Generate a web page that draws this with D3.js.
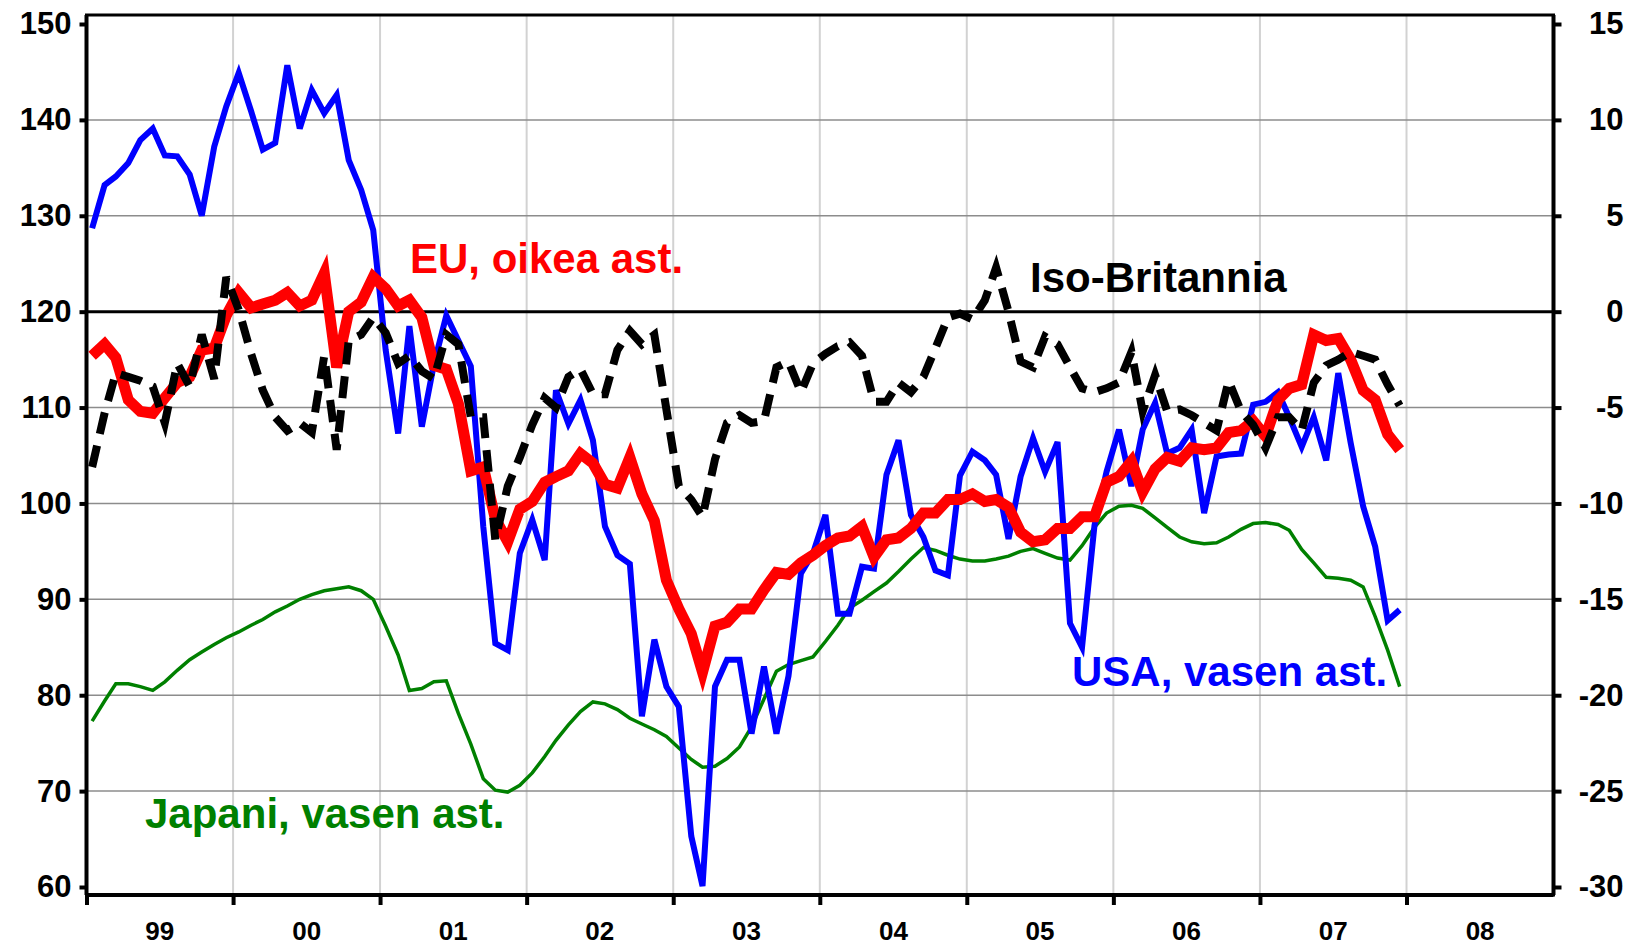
<!DOCTYPE html>
<html>
<head>
<meta charset="utf-8">
<script src="https://cdn.jsdelivr.net/npm/d3@7"></script>
<style>
  body { margin: 0; background: #fff; }
  svg text { font-family: "Liberation Sans", Arial, sans-serif; font-weight: bold; }
</style>
</head>
<body>
<div id="chart"></div>
<script>
// monthly values, Jan 1999 - Dec 2007 (one row per year)
var usa = [ // left axis
  128.7,133.2,134.1,135.5,137.9,139.1,136.3,136.2,134.3,130.0,137.2,141.4,
  144.9,140.9,136.9,137.6,145.7,139.1,143.1,140.7,142.6,135.8,132.7,128.5,
  116.0,107.3,118.5,108.0,114.5,119.6,117.0,114.3,97.6,85.4,84.7,94.8,
  98.3,94.1,111.8,108.3,110.8,106.6,97.6,94.6,93.7,77.8,85.8,80.9,
  78.8,65.3,60.1,80.9,83.7,83.7,76.0,83.0,76.0,82.0,92.7,94.8,
  98.8,88.5,88.5,93.4,93.2,103.0,106.6,98.8,96.5,93.0,92.5,102.9,
  105.4,104.5,103.0,96.3,102.8,106.8,103.3,106.4,87.5,85.0,97.7,103.3,
  107.7,101.8,107.7,110.5,105.2,105.8,107.7,99.0,104.9,105.1,105.2,110.3,
  110.6,111.6,109.0,105.9,109.0,104.5,113.6,106.3,99.7,95.5,87.8,88.9
];
var japan = [ // left axis
  77.3,79.4,81.2,81.2,80.9,80.5,81.4,82.6,83.7,84.5,85.3,86.0,
  86.6,87.3,87.9,88.7,89.3,90.0,90.5,90.9,91.1,91.3,90.9,90.0,
  87.2,84.2,80.5,80.7,81.4,81.5,78.1,74.9,71.3,70.1,69.9,70.6,
  71.9,73.6,75.3,76.9,78.3,79.3,79.1,78.5,77.6,77.0,76.4,75.7,
  74.5,73.3,72.5,72.6,73.4,74.6,76.7,79.6,82.5,83.2,83.6,84.0,
  85.6,87.3,89.1,89.9,90.8,91.7,92.9,94.2,95.4,95.1,94.6,94.2,
  94.0,94.0,94.2,94.5,95.0,95.3,94.8,94.3,94.1,95.6,97.5,99.0,
  99.7,99.8,99.5,98.5,97.5,96.5,96.0,95.8,95.9,96.5,97.3,97.9,
  98.0,97.8,97.2,95.2,93.8,92.3,92.2,92.0,91.3,88.2,84.7,80.9
];
var eu = [ // right axis
  -2.3,-1.7,-2.4,-4.6,-5.2,-5.3,-4.5,-3.7,-3.4,-2.0,-1.9,-0.2,
  1.0,0.2,0.4,0.6,1.0,0.3,0.6,2.0,-2.9,0.0,0.5,1.8,
  1.2,0.3,0.6,-0.3,-2.8,-3.0,-4.8,-8.3,-8.1,-10.8,-12.0,-10.3,
  -9.9,-8.9,-8.6,-8.3,-7.4,-7.9,-9.0,-9.2,-7.6,-9.5,-10.9,-14.0,
  -15.5,-16.8,-18.8,-16.4,-16.2,-15.5,-15.5,-14.5,-13.6,-13.7,-13.1,-12.7,
  -12.2,-11.8,-11.7,-11.2,-12.8,-11.9,-11.8,-11.3,-10.5,-10.5,-9.8,-9.8,
  -9.5,-9.9,-9.8,-10.2,-11.5,-12.0,-11.9,-11.3,-11.3,-10.7,-10.7,-8.9,
  -8.6,-7.8,-9.4,-8.2,-7.6,-7.8,-7.1,-7.2,-7.1,-6.3,-6.2,-5.7,
  -6.5,-4.6,-4.0,-3.8,-1.2,-1.5,-1.4,-2.5,-4.1,-4.6,-6.4,-7.2
];
var uk = [ // right axis
  -8.1,-5.3,-3.2,-3.4,-3.6,-3.9,-5.8,-2.7,-3.9,-1.2,-3.5,1.8,
  0.1,-2.2,-4.1,-5.5,-6.2,-5.8,-6.3,-2.3,-7.2,-1.5,-1.2,-0.3,
  -1.1,-2.7,-2.3,-3.1,-3.5,-1.2,-1.7,-5.5,-5.5,-11.9,-9.1,-7.6,
  -5.9,-4.5,-5.0,-3.4,-3.0,-4.3,-4.3,-2.0,-1.0,-1.7,-1.2,-5.1,
  -9.1,-9.8,-10.7,-7.7,-5.8,-5.4,-5.8,-5.7,-2.9,-2.6,-4.2,-2.7,
  -2.2,-1.8,-1.6,-2.3,-4.7,-4.7,-3.7,-4.2,-3.4,-1.9,-0.3,-0.1,
  -0.4,0.6,2.3,0.0,-2.6,-2.9,-1.3,-1.7,-2.9,-4.0,-4.2,-4.0,
  -3.7,-2.1,-5.2,-3.3,-5.2,-5.1,-5.4,-5.8,-6.2,-3.6,-5.2,-5.9,
  -7.1,-5.5,-5.5,-6.2,-3.7,-2.8,-2.5,-2.1,-2.3,-2.5,-3.8,-4.9
];
var leftTicks = [60,70,80,90,100,110,120,130,140,150];
var rightTicks = [-30,-25,-20,-15,-10,-5,0,5,10,15];
var yearLabels = ["99","00","01","02","03","04","05","06","07","08"];

var width = 1635, height = 947;
var plot = {left: 86.5, right: 1553.5, top: 15, bottom: 895};

// mid-month dates for the monthly points
var months = d3.timeMonth.range(new Date(1999,0,1), new Date(2008,0,1))
    .map(function(d){ return d3.timeDay.offset(d, 14); });
var yearStarts = d3.timeYear.range(new Date(1999,0,1), new Date(2009,0,2));
var yearMids = yearStarts.slice(0, 10).map(function(d){ return d3.timeMonth.offset(d, 6); });

var x = d3.scaleTime()
    .domain([new Date(1999,0,1), new Date(2009,0,1)])
    .range([plot.left, plot.right]);
var yL = d3.scaleLinear().domain([60,150]).range([887,24]);
var yR = d3.scaleLinear().domain([-30,15]).range([887,24]);

var svg = d3.select("#chart").append("svg")
    .attr("width", width)
    .attr("height", height);

// vertical grid (years)
svg.append("g")
    .selectAll("line")
    .data(yearStarts.slice(1, 10))
    .enter().append("line")
    .attr("x1", function(d){ return x(d); })
    .attr("x2", function(d){ return x(d); })
    .attr("y1", plot.top)
    .attr("y2", plot.bottom)
    .style("stroke", "#d2d2d2")
    .style("stroke-width", 2);

// horizontal grid
svg.append("g")
    .selectAll("line")
    .data(leftTicks.filter(function(v){ return v > 60 && v < 150 && v != 120; }))
    .enter().append("line")
    .attr("x1", plot.left)
    .attr("x2", plot.right)
    .attr("y1", function(d){ return yL(d); })
    .attr("y2", function(d){ return yL(d); })
    .style("stroke", "#8c8c8c")
    .style("stroke-width", 1.5);

// zero line of the right axis
svg.append("line")
    .attr("x1", plot.left)
    .attr("x2", plot.right)
    .attr("y1", yR(0))
    .attr("y2", yR(0))
    .style("stroke", "#000")
    .style("stroke-width", 3);

// frame
svg.append("rect")
    .attr("x", plot.left)
    .attr("y", plot.top)
    .attr("width", plot.right - plot.left)
    .attr("height", plot.bottom - plot.top)
    .style("fill", "none")
    .style("stroke", "#000")
    .style("stroke-width", 3);

var plain = function(d){ return String(d); };   // hyphen minus like the original

// left axis
var gL = svg.append("g")
    .attr("transform", "translate(" + plot.left + ",0)")
    .call(d3.axisLeft(yL).tickValues(leftTicks).tickSize(7).tickPadding(8)
        .tickSizeOuter(0).tickFormat(plain));
gL.select(".domain").attr("d", "M0," + plot.top + "V" + plot.bottom);

// right axis
var gR = svg.append("g")
    .attr("transform", "translate(" + plot.right + ",0)")
    .call(d3.axisRight(yR).tickValues(rightTicks).tickSize(8).tickSizeOuter(0).tickFormat(plain));
gR.select(".domain").attr("d", "M0," + plot.top + "V" + plot.bottom);
gR.selectAll("text").attr("text-anchor", "end").attr("x", 70);

// bottom axis: year ticks + labels in the middle of each year
var gB = svg.append("g")
    .attr("transform", "translate(0," + plot.bottom + ")")
    .call(d3.axisBottom(x).tickValues(yearStarts.slice(0, 10)).tickSize(10).tickFormat("").tickSizeOuter(0));
gB.select(".domain").attr("d", "M" + plot.left + ",0H" + plot.right);

var gBL = svg.append("g")
    .attr("transform", "translate(0," + plot.bottom + ")")
    .call(d3.axisBottom(x).tickValues(yearMids).tickSize(0).tickPadding(27)
        .tickFormat(function(d, i){ return yearLabels[i]; }));
gBL.select(".domain").remove();

svg.selectAll(".domain").style("stroke", "#000").style("stroke-width", 4);
svg.selectAll(".tick line").style("stroke", "#000").style("stroke-width", 4);
gL.selectAll("text").style("font-size", "31px").style("fill", "#000");
gR.selectAll("text").style("font-size", "31px").style("fill", "#000");
gBL.selectAll("text").style("font-size", "26px").style("fill", "#000");

// series
function drawLine(values, scale, color, w, dash) {
    var line = d3.line()
        .x(function(d, i){ return x(months[i]); })
        .y(function(d){ return scale(d); });
    var p = svg.append("path")
        .datum(values)
        .attr("d", line)
        .style("fill", "none")
        .style("stroke", color)
        .style("stroke-width", w)
        .style("stroke-linejoin", "miter");
    if (dash) p.style("stroke-dasharray", dash);
}

drawLine(japan, yL, "#008000", 3.5);
drawLine(usa, yL, "#0000ff", 6);
drawLine(eu, yR, "#ff0000", 11);
drawLine(uk, yR, "#000000", 8, "22,12");

// series labels
var labels = [
    {text: "EU, oikea ast.", x: 410, y: 273, color: "#ff0000"},
    {text: "Iso-Britannia", x: 1030, y: 292, color: "#000000"},
    {text: "USA, vasen ast.", x: 1072, y: 686, color: "#0000ff"},
    {text: "Japani, vasen ast.", x: 145, y: 828, color: "#008000"}
];
svg.append("g")
    .selectAll("text")
    .data(labels)
    .enter().append("text")
    .attr("x", function(d){ return d.x; })
    .attr("y", function(d){ return d.y; })
    .style("font-size", "42px")
    .style("fill", function(d){ return d.color; })
    .text(function(d){ return d.text; });
</script>
</body>
</html>
